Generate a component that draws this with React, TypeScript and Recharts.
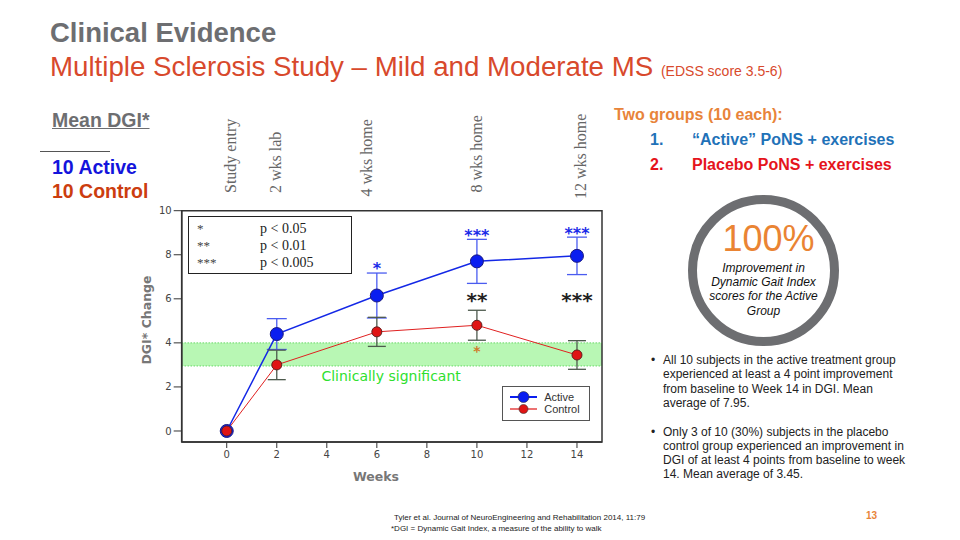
import React from 'react';
import {
  LineChart,
  Line,
  XAxis,
  YAxis,
  ErrorBar,
  ReferenceArea,
  ReferenceLine,
  ReferenceDot,
  Legend,
} from 'recharts';

// =============================================================================
// Data
// =============================================================================

const weeks = [0, 2, 6, 10, 14];
const activeMean = [0, 4.4, 6.15, 7.7, 7.95];
const activeErr = [0, 0.7, 1.02, 1.0, 0.85];
const controlMean = [0, 3.0, 4.5, 4.8, 3.45];
const controlErr = [0, 0.67, 0.66, 0.68, 0.65];

const xTicks = [0, 2, 4, 6, 8, 10, 12, 14];
const yTicks = [0, 2, 4, 6, 8, 10];
const xDomain = [-1.8, 15];
const yDomain = [-0.5, 10];

// clinically significant band
const bandLow = 2.95;
const bandHigh = 4;

// significance marks
const markWeek = [6, 10, 14, 10, 14, 10];
const markValue = [7.45, 8.97, 9.05, 6.02, 6.02, 3.7];
const markText = ['*', '***', '***', '**', '***', '*'];
const markKind = ['active', 'active', 'active', 'between', 'between', 'control'];

const phaseLabels = ['Study entry', '2 wks lab', '4 wks home', '8 wks home', '12 wks home'];
const pLegendStars = ['*', '**', '***'];
const pLegendText = ['p < 0.05', 'p < 0.01', 'p < 0.005'];

const chartData = weeks.map((w, i) => ({
  week: w,
  active: activeMean[i],
  activeErr: activeErr[i],
  control: controlMean[i],
  controlErr: controlErr[i],
}));

// =============================================================================
// Styles
// =============================================================================

const SANS = '"Liberation Sans", Arial, sans-serif';
const VERDANA = '"DejaVu Sans", Verdana, sans-serif';
const SERIF = '"Liberation Serif", "Times New Roman", serif';

const BLUE = '#0a1ef0';
const RED = '#e01414';

const markStyle: Record<string, { color: string; size: number }> = {
  active: { color: '#1a2ae8', size: 16 },
  between: { color: '#222', size: 20 },
  control: { color: '#d07a2a', size: 14 },
};

// phase label layout (page px): centre x, start y
const phaseX = [230, 275, 366.5, 476.5, 580];
const phaseY = [193, 193, 196.5, 192.5, 199];

const abs = (left: number, top: number, extra: React.CSSProperties = {}): React.CSSProperties => ({
  position: 'absolute',
  left,
  top,
  whiteSpace: 'nowrap',
  lineHeight: 1,
  fontFamily: SANS,
  ...extra,
});

const renderMark = (i: number) => (props: any) => {
  const vb = props.viewBox || {};
  const cx = vb.x + (vb.width || 0) / 2;
  const cy = vb.y + (vb.height || 0) / 2;
  const st = markStyle[markKind[i]];
  return (
    <text
      x={cx}
      y={cy}
      dy="0.45em"
      textAnchor="middle"
      fontFamily={VERDANA}
      fontWeight="bold"
      fontSize={st.size}
      fill={st.color}
    >
      {markText[i]}
    </text>
  );
};

const renderClinical = (props: any) => {
  const vb = props.viewBox || {};
  return (
    <text
      x={vb.x + (vb.width || 0) / 2}
      y={vb.y + (vb.height || 0) / 2}
      dy="0.36em"
      textAnchor="middle"
      fontFamily={VERDANA}
      fontSize={14}
      fill="#2ee02e"
    >
      Clinically significant
    </text>
  );
};

const legendItems = [
  { name: 'Active', color: BLUE, r: 5.5, width: 2 },
  { name: 'Control', color: RED, r: 4.5, width: 1.2 },
];

const LegendBox = () => (
  <div
    style={{
      boxSizing: 'border-box',
      width: 88,
      height: 35,
      border: '1.5px solid #555',
      background: '#fff',
      padding: '4px 0 0 7.5px',
      fontFamily: SANS,
      fontSize: 11,
      color: '#333',
    }}
  >
    {legendItems.map((s) => (
      <div key={s.name} style={{ display: 'flex', alignItems: 'center', height: 12 }}>
        <svg width={27} height={12} style={{ display: 'block' }}>
          <line x1={0} y1={6} x2={27} y2={6} stroke={s.color} strokeWidth={s.width} />
          <circle cx={13.5} cy={6} r={s.r} fill={s.color} stroke="#333" strokeWidth={0.6} />
        </svg>
        <span style={{ marginLeft: 7, lineHeight: '12px' }}>{s.name}</span>
      </div>
    ))}
  </div>
);

// =============================================================================
// Chart
// =============================================================================

function DgiChart() {
  return (
    <div style={{ position: 'absolute', left: 100, top: 195 }}>
      <LineChart
        width={520}
        height={300}
        data={chartData}
        margin={{ top: 15.7, right: 18, left: 21.7, bottom: 23 }}
      >
        <ReferenceArea
          x1={xDomain[0]}
          x2={xDomain[1]}
          y1={bandLow}
          y2={bandHigh}
          fill="#b8f7b4"
          fillOpacity={1}
          stroke="none"
        />
        <ReferenceLine y={bandHigh} stroke="#3cc83c" strokeDasharray="1 2" />
        <ReferenceLine y={bandLow} stroke="#3cc83c" strokeDasharray="1 2" />
        <XAxis
          dataKey="week"
          type="number"
          domain={xDomain}
          ticks={xTicks}
          allowDataOverflow
          height={30}
          tickSize={6}
          tickMargin={3}
          tick={{ fontSize: 10, fill: '#444', fontFamily: VERDANA }}
          axisLine={{ stroke: '#333', strokeWidth: 1.5 }}
          tickLine={{ stroke: '#333' }}
        />
        <YAxis
          type="number"
          domain={yDomain}
          ticks={yTicks}
          allowDataOverflow
          width={60}
          tickSize={8}
          tickMargin={2}
          tick={{ fontSize: 10, fill: '#444', fontFamily: VERDANA }}
          axisLine={{ stroke: '#333', strokeWidth: 1.5 }}
          tickLine={{ stroke: '#333' }}
        />
        <ReferenceArea
          x1={xDomain[0]}
          x2={xDomain[1]}
          y1={yDomain[0]}
          y2={yDomain[1]}
          fill="none"
          stroke="#333"
          strokeWidth={1.5}
        />
        <ReferenceDot x={6.57} y={2.5} r={0} fill="none" stroke="none" label={renderClinical} />
        <Line
          dataKey="active"
          stroke="#1428e6"
          strokeWidth={1.5}
          dot={{ r: 6.5, fill: BLUE, stroke: '#1a1a80', strokeWidth: 1 }}
          activeDot={false}
          isAnimationActive={false}
        >
          <ErrorBar dataKey="activeErr" width={10} stroke="#4a5cf0" strokeWidth={1.3} direction="y" />
        </Line>
        <Line
          dataKey="control"
          stroke="#e02020"
          strokeWidth={1}
          dot={{ r: 5, fill: RED, stroke: '#602020', strokeWidth: 1 }}
          activeDot={false}
          isAnimationActive={false}
        >
          <ErrorBar dataKey="controlErr" width={9} stroke="#4d5a4d" strokeWidth={1.3} direction="y" />
        </Line>
        {markWeek.map((w, i) => (
          <ReferenceDot
            key={`mark-${i}`}
            x={w}
            y={markValue[i]}
            r={0}
            fill="none"
            stroke="none"
            label={renderMark(i)}
          />
        ))}
        <Legend
          layout="vertical"
          align="center"
          verticalAlign="middle"
          content={() => <LegendBox />}
          wrapperStyle={{ left: 401.7, top: 190.7, right: 'auto', bottom: 'auto', width: 88, height: 35 }}
        />
      </LineChart>
    </div>
  );
}

// =============================================================================
// Slide
// =============================================================================

export default function App() {
  return (
    <div
      style={{
        position: 'absolute',
        left: 0,
        top: 0,
        width: 960,
        height: 540,
        background: '#fff',
        overflow: 'hidden',
        fontFamily: SANS,
      }}
    >
      {/* titles */}
      <div style={abs(50, 18.5, { fontSize: 27.5, fontWeight: 'bold', color: '#6d6e71' })}>Clinical Evidence</div>
      <div style={abs(50, 53, { fontSize: 27.7, color: '#d8492c' })}>
        Multiple Sclerosis Study – Mild and Moderate MS{' '}
        <span style={{ fontSize: 14 }}>(EDSS score 3.5-6)</span>
      </div>

      {/* left block */}
      <div style={abs(52, 111, { fontSize: 19.5, fontWeight: 'bold', color: '#6d6e71', textDecoration: 'underline' })}>
        Mean DGI*
      </div>
      <div style={{ position: 'absolute', left: 40, top: 150.5, width: 70, height: 1, background: '#555' }} />
      <div style={abs(52, 158, { fontSize: 19.5, fontWeight: 'bold', color: '#1414dc' })}>10 Active</div>
      <div style={abs(52, 182, { fontSize: 19.5, fontWeight: 'bold', color: '#cc3d0f' })}>10 Control</div>

      {/* right block */}
      <div style={abs(614, 107, { fontSize: 16, fontWeight: 'bold', color: '#e8843a' })}>Two groups (10 each):</div>
      <div style={abs(650, 132, { fontSize: 16, fontWeight: 'bold', color: '#1f72b8' })}>1.</div>
      <div style={abs(692, 132, { fontSize: 16, fontWeight: 'bold', color: '#1f72b8' })}>“Active” PoNS + exercises</div>
      <div style={abs(650, 157, { fontSize: 16, fontWeight: 'bold', color: '#e5141c' })}>2.</div>
      <div style={abs(692, 157, { fontSize: 16, fontWeight: 'bold', color: '#e5141c' })}>Placebo PoNS + exercises</div>

      <div
        style={{
          position: 'absolute',
          left: 688,
          top: 195,
          width: 151,
          height: 151,
          boxSizing: 'border-box',
          border: '9px solid #6d6e71',
          borderRadius: '50%',
        }}
      />
      <div style={abs(688, 221, { width: 161, textAlign: 'center', fontSize: 36, color: '#ea8433' })}>100%</div>
      <div
        style={abs(688, 261, {
          width: 151,
          textAlign: 'center',
          fontSize: 12,
          fontStyle: 'italic',
          lineHeight: '14.2px',
          color: '#111',
        })}
      >
        Improvement in
        <br />
        Dynamic Gait Index
        <br />
        scores for the Active
        <br />
        Group
      </div>

      <div style={abs(651, 353, { fontSize: 12, lineHeight: '14.3px', color: '#222' })}>•</div>
      <div style={abs(663, 353, { fontSize: 12, lineHeight: '14.3px', color: '#222' })}>
        All 10 subjects in the active treatment group
        <br />
        experienced at least a 4 point improvement
        <br />
        from baseline to Week 14 in DGI. Mean
        <br />
        average of 7.95.
      </div>
      <div style={abs(651, 424.5, { fontSize: 12, lineHeight: '14.3px', color: '#222' })}>•</div>
      <div style={abs(663, 424.5, { fontSize: 12, lineHeight: '14.3px', color: '#222' })}>
        Only 3 of 10 (30%) subjects in the placebo
        <br />
        control group experienced an improvement in
        <br />
        DGI of at least 4 points from baseline to week
        <br />
        14. Mean average of 3.45.
      </div>

      {/* footer */}
      <div style={abs(394, 514, { fontSize: 8, color: '#222' })}>
        Tyler et al. Journal of NeuroEngineering and Rehabilitation 2014, 11:79
      </div>
      <div style={abs(391, 525, { fontSize: 8, color: '#222' })}>
        *DGI = Dynamic Gait Index, a measure of the ability to walk
      </div>
      <div style={abs(866, 511, { fontSize: 10, fontWeight: 'bold', color: '#e8843a' })}>13</div>

      <DgiChart />

      {/* p-value key */}
      <div
        style={{
          position: 'absolute',
          left: 188,
          top: 216,
          width: 164,
          height: 58,
          boxSizing: 'border-box',
          border: '1.5px solid #222',
          background: '#fff',
          fontFamily: SERIF,
          fontSize: 14,
          color: '#222',
        }}
      >
        {pLegendStars.map((s, i) => (
          <div
            key={s}
            style={{ position: 'absolute', top: 3 + i * 17, left: 0, width: 160, height: 17, lineHeight: '17px', whiteSpace: 'nowrap' }}
          >
            <span style={{ position: 'absolute', left: 8, fontSize: 13, color: '#444' }}>{s}</span>
            <span style={{ position: 'absolute', left: 71 }}>{pLegendText[i]}</span>
          </div>
        ))}
      </div>

      {/* rotated texts */}
      <svg
        width={960}
        height={540}
        style={{ position: 'absolute', left: 0, top: 0, pointerEvents: 'none' }}
      >
        {phaseLabels.map((t, i) => (
          <text
            key={t}
            x={phaseX[i]}
            y={phaseY[i]}
            transform={`rotate(-90 ${phaseX[i]} ${phaseY[i]})`}
            dy="0.35em"
            fontFamily={SERIF}
            fontSize={16}
            fill="#666"
          >
            {t}
          </text>
        ))}
        <text
          x={146}
          y={320}
          transform="rotate(-90 146 320)"
          textAnchor="middle"
          dy="0.36em"
          fontFamily={VERDANA}
          fontWeight="bold"
          fontSize={12.5}
          fill="#777"
        >
          DGI* Change
        </text>
        <text
          x={376}
          y={476}
          textAnchor="middle"
          dy="0.36em"
          fontFamily={VERDANA}
          fontWeight="bold"
          fontSize={12.5}
          fill="#777"
        >
          Weeks
        </text>
      </svg>
    </div>
  );
}
